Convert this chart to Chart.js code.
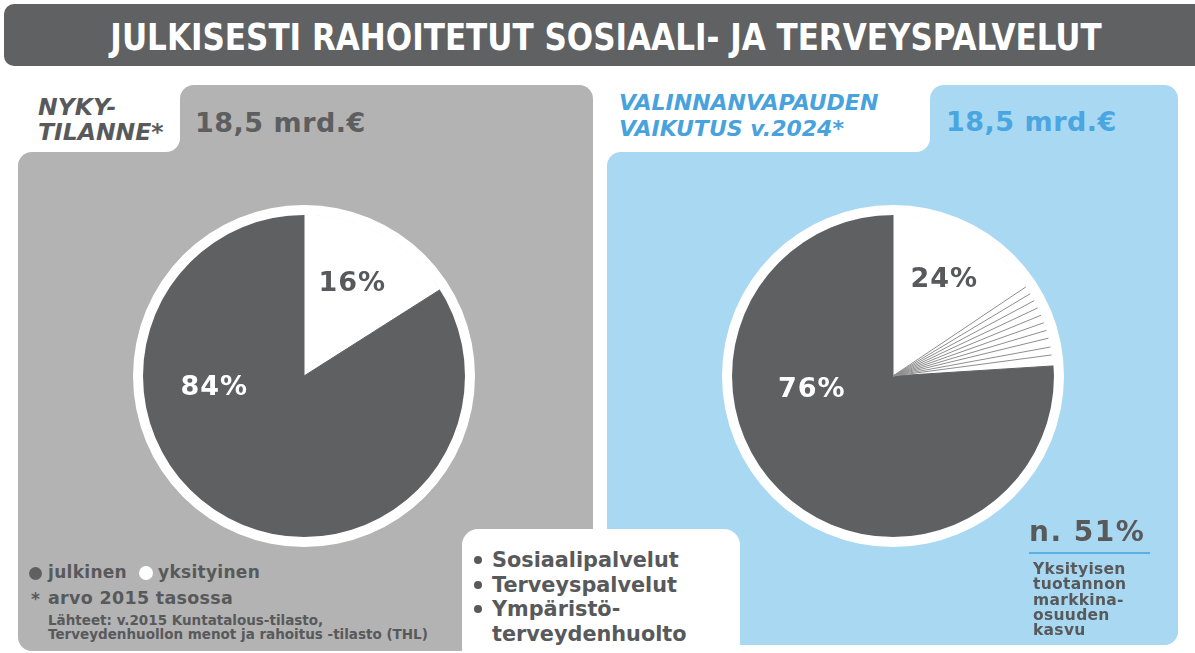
<!DOCTYPE html>
<html>
<head>
<meta charset="utf-8">
<script src="https://cdn.jsdelivr.net/npm/chart.js@4.4.1/dist/chart.umd.min.js"></script>
<style>
body { margin:0; width:1195px; height:653px; background:#fff; position:relative; overflow:hidden;
  font-family:"DejaVu Sans", Verdana, sans-serif; font-weight:bold; color:#58595b; }
.a { position:absolute; white-space:nowrap; }
.gray { background:#b3b3b3; }
.blue { background:#a9d8f2; }
.dot { position:absolute; border-radius:50%; }
</style>
</head>
<body>
<!-- title -->
<div class="a" style="left:4px;top:4px;width:1205px;height:62px;background:#5f6163;border-radius:10px"></div>
<div class="a" style="left:-394px;top:20px;width:2000px;text-align:center;color:#fff;font-family:'DejaVu Sans Condensed','DejaVu Sans';font-stretch:condensed;font-size:34.5px;line-height:34px;transform:scaleY(1.06)">JULKISESTI RAHOITETUT SOSIAALI- JA TERVEYSPALVELUT</div>

<!-- left panel -->
<div class="a gray" style="left:180px;top:85px;width:413px;height:566px;border-radius:14px"></div>
<div class="a gray" style="left:18px;top:152px;width:575px;height:499px;border-radius:14px"></div>
<div class="a gray" style="left:166px;top:138px;width:14px;height:14px"></div>
<div class="a" style="left:18px;top:85px;width:162px;height:67px;background:#fff;border-bottom-right-radius:14px"></div>
<div class="a" style="left:38px;top:95px;font-size:23.5px;line-height:25px;font-style:italic">NYKY-<br>TILANNE*</div>
<div class="a" style="left:195px;top:109px;font-size:27px;line-height:27px;letter-spacing:0.5px;color:#5d5e60">18,5 mrd.€</div>

<!-- right panel -->
<div class="a blue" style="left:930px;top:85px;width:248px;height:560px;border-radius:14px"></div>
<div class="a blue" style="left:607px;top:152px;width:571px;height:493px;border-radius:14px"></div>
<div class="a blue" style="left:916px;top:138px;width:14px;height:14px"></div>
<div class="a" style="left:607px;top:85px;width:323px;height:67px;background:#fff;border-bottom-right-radius:14px"></div>
<div class="a" style="left:619px;top:90px;font-size:22px;line-height:26px;font-style:italic;color:#47a2dd">VALINNANVAPAUDEN<br>VAIKUTUS v.2024*</div>
<div class="a" style="left:946px;top:108px;font-size:27px;line-height:27px;letter-spacing:0.5px;color:#4aa6e0">18,5 mrd.€</div>

<!-- pies -->
<div class="a" style="left:133px;top:205px"><canvas id="pieNow" width="342" height="342"></canvas></div>
<div class="a" style="left:722px;top:205px"><canvas id="pieReform" width="342" height="342"></canvas></div>

<!-- left bottom notes -->
<div class="dot" style="left:29px;top:567px;width:13px;height:13px;background:#5f6062"></div>
<div class="a" style="left:48px;top:564px;font-size:17px;line-height:17px;letter-spacing:0.3px">julkinen</div>
<div class="dot" style="left:139px;top:566px;width:14px;height:14px;background:#fff"></div>
<div class="a" style="left:158px;top:564px;font-size:17px;line-height:17px;letter-spacing:0.3px">yksityinen</div>
<div class="a" style="left:31px;top:591px;font-size:17px;line-height:17px">*</div>
<div class="a" style="left:48px;top:590px;font-size:17.5px;line-height:17.5px;letter-spacing:0.3px">arvo 2015 tasossa</div>
<div class="a" style="left:48px;top:613px;font-size:13.5px;line-height:14px">Lähteet: v.2015 Kuntatalous-tilasto,<br>Terveydenhuollon menot ja rahoitus -tilasto (THL)</div>

<!-- legend box -->
<div class="a" style="left:462px;top:529px;width:278px;height:140px;background:#fff;border-radius:16px"></div>
<div class="dot" style="left:474px;top:556px;width:8px;height:8px;background:#58595b"></div>
<div class="dot" style="left:474px;top:581px;width:8px;height:8px;background:#58595b"></div>
<div class="dot" style="left:474px;top:605px;width:8px;height:8px;background:#58595b"></div>
<div class="a" style="left:492px;top:548px;font-size:20.8px;line-height:24.5px">Sosiaalipalvelut<br>Terveyspalvelut<br>Ympäristö-<br>terveydenhuolto</div>

<!-- right bottom note -->
<div class="a" style="left:1029px;top:518px;font-size:28px;line-height:28px;letter-spacing:1.5px">n. 51%</div>
<div class="a" style="left:1029px;top:552px;width:121px;height:2px;background:#5bb0e3"></div>
<div class="a" style="left:1033px;top:562px;font-size:15.5px;line-height:15.3px;letter-spacing:0.3px">Yksityisen<br>tuotannon<br>markkina-<br>osuuden<br>kasvu</div>

<script>
// slices: private (white) first, then public (dark), clockwise from 12 o'clock
const sliceLabels = ['yksityinen', 'julkinen']
const nowShares = [16, 84]
const reformShares = [24, 76]
// thin lines inside the private slice of the 2024 pie (share positions, %)
const fanShares = [15.6, 16.4, 17.2, 18.0, 18.8, 19.6, 20.4, 21.2, 22.1, 22.9]

const sliceColors = ['#ffffff', '#5f6062']
const labelColors = ['#58595b', '#ffffff']

const pieExtras = {
    id: 'pieExtras',
    afterDatasetsDraw(chart, args, opts) {
        const meta = chart.getDatasetMeta(1)
        const ctx = chart.ctx
        const arc0 = meta.data[0]
        const cx = arc0.x, cy = arc0.y, r = arc0.outerRadius

        if (opts.fan) {
            ctx.save()
            ctx.strokeStyle = '#8e8e8e'
            ctx.lineWidth = 1
            opts.fan.forEach(p => {
                const a = -Math.PI / 2 + p / 100 * 2 * Math.PI
                ctx.beginPath()
                ctx.moveTo(cx, cy)
                ctx.lineTo(cx + Math.cos(a) * (r - 1), cy + Math.sin(a) * (r - 1))
                ctx.stroke()
            })
            ctx.restore()
        }

        // percentage labels
        const values = chart.data.datasets[1].data
        const size = 27
        ctx.save()
        ctx.font = 'bold ' + size + 'px "DejaVu Sans"'
        ctx.letterSpacing = '1px'
        ctx.textAlign = 'center'
        ctx.textBaseline = 'alphabetic'
        values.forEach((v, i) => {
            const pl = opts.placement[i]
            const a = (pl.deg - 90) * Math.PI / 180
            const x = cx + Math.cos(a) * r * pl.r
            const y = cy + Math.sin(a) * r * pl.r
            ctx.fillStyle = labelColors[i]
            ctx.fillText(v + '%', x, y + size * 0.365)
        })
        ctx.restore()
    }
}

function makePie(id, shares, placement, fan) {
    return new Chart(document.getElementById(id), {
        type: 'pie',
        data: {
            labels: sliceLabels,
            datasets: [
                // white rim around the pie
                { data: [1], backgroundColor: '#ffffff', borderWidth: 0, weight: 10 },
                { data: shares, backgroundColor: sliceColors, borderColor: sliceColors, borderWidth: 1, weight: 161 }
            ]
        },
        options: {
            responsive: false,
            animation: false,
            events: [],
            layout: { padding: 0 },
            plugins: {
                legend: { display: false },
                tooltip: { enabled: false },
                pieExtras: { placement: placement, fan: fan }
            }
        },
        plugins: [pieExtras]
    })
}

makePie('pieNow', nowShares, [{ deg: 27, r: 0.66 }, { deg: 264, r: 0.56 }], null)
makePie('pieReform', reformShares, [{ deg: 27.5, r: 0.69 }, { deg: 262, r: 0.51 }], fanShares)
</script>
</body>
</html>
